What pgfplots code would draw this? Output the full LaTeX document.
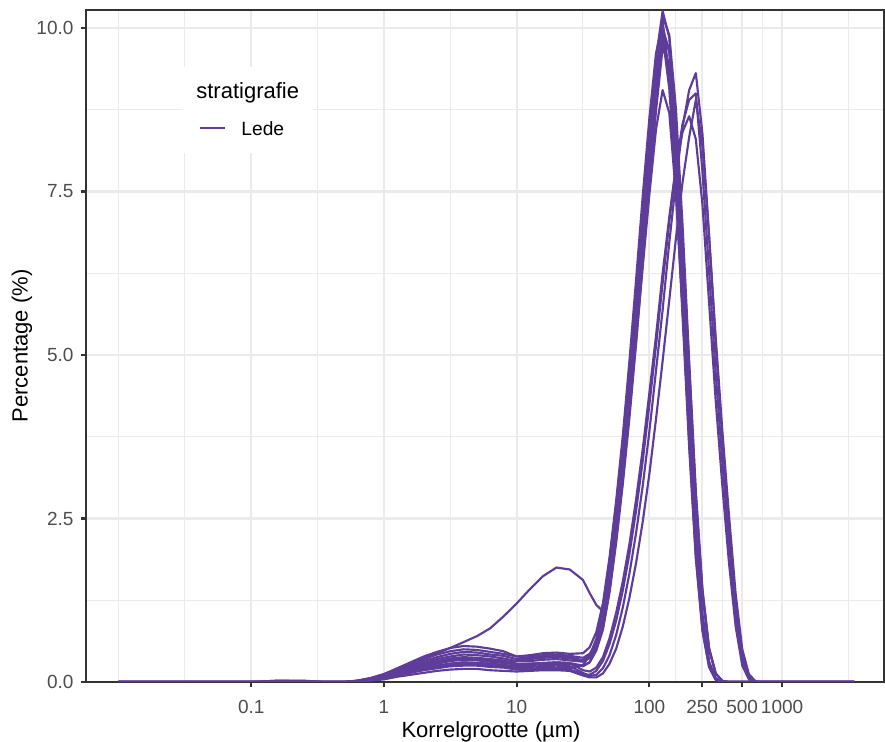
\documentclass[border=0pt]{standalone}
\usepackage{fontspec}
\setmainfont{Liberation Sans}
\usepackage{pgfplots}
\usepackage{pgfplotstable}
\pgfplotsset{compat=1.18}
\definecolor{lede}{HTML}{5E3C99}
\definecolor{grid92}{HTML}{EBEBEB}
\definecolor{grey20}{HTML}{333333}
\definecolor{grey30}{HTML}{4D4D4D}

\pgfplotstableread{
x A1 A2 A3 A4 A5 A6 A7 A8 O B1 B2 B3 B4
0.01 0 0 0 0 0 0 0 0 0 0 0 0 0
0.1 0 0 0 0 0 0 0 0 0 0 0 0 0
0.158 0 0 0.02 0 0 0 0 0 0 0 0 0 0.02
0.251 0 0 0.02 0 0 0 0 0 0 0 0 0 0.015
0.355 0 0 0 0 0 0 0 0 0 0 0 0 0
0.501 0 0 0 0 0 0 0 0 0 0 0 0 0
0.631 0.01 0.01 0.02 0.01 0.02 0.01 0.01 0.01 0.02 0.01 0.01 0.01 0.01
0.794 0.04 0.03 0.05 0.04 0.06 0.03 0.05 0.04 0.06 0.03 0.03 0.02 0.03
1 0.09 0.07 0.11 0.08 0.12 0.06 0.10 0.08 0.12 0.07 0.06 0.04 0.07
1.259 0.16 0.11 0.19 0.14 0.21 0.11 0.17 0.14 0.20 0.11 0.10 0.08 0.13
1.585 0.23 0.17 0.28 0.20 0.30 0.15 0.25 0.21 0.28 0.17 0.14 0.11 0.19
1.995 0.29 0.21 0.35 0.25 0.39 0.20 0.32 0.27 0.36 0.21 0.18 0.14 0.24
2.512 0.35 0.25 0.42 0.30 0.46 0.23 0.38 0.32 0.44 0.25 0.21 0.17 0.28
3.162 0.39 0.28 0.47 0.34 0.52 0.26 0.43 0.36 0.52 0.28 0.24 0.19 0.32
3.981 0.42 0.30 0.50 0.36 0.55 0.28 0.46 0.38 0.61 0.30 0.25 0.20 0.34
5.012 0.41 0.29 0.49 0.35 0.54 0.27 0.45 0.37 0.70 0.29 0.25 0.20 0.33
6.310 0.39 0.28 0.46 0.33 0.51 0.26 0.42 0.35 0.82 0.28 0.23 0.18 0.31
7.943 0.36 0.26 0.43 0.31 0.47 0.24 0.40 0.33 1.00 0.26 0.22 0.17 0.29
10 0.32 0.24 0.39 0.32 0.39 0.21 0.35 0.28 1.20 0.23 0.19 0.16 0.27
12.59 0.32 0.26 0.41 0.39 0.37 0.20 0.35 0.28 1.42 0.23 0.18 0.17 0.28
15.85 0.34 0.27 0.44 0.41 0.39 0.22 0.37 0.29 1.62 0.245 0.20 0.18 0.29
19.95 0.35 0.28 0.45 0.42 0.40 0.22 0.38 0.30 1.75 0.25 0.20 0.18 0.30
25.12 0.33 0.27 0.43 0.40 0.38 0.21 0.36 0.29 1.72 0.24 0.19 0.17 0.29
31.62 0.31 0.24 0.44 0.37 0.33 0.26 0.33 0.25 1.56 0.14 0.12 0.10 0.18
35.48 0.40 0.30 0.53 0.43 0.36 0.40 0.41 0.30 1.36 0.09 0.11 0.07 0.16
39.81 0.58 0.50 0.76 0.60 0.53 0.66 0.57 0.48 1.18 0.11 0.17 0.07 0.22
44.67 0.98 0.83 1.20 0.98 0.84 1.14 0.95 0.80 1.08 0.21 0.32 0.13 0.38
50.12 1.66 1.43 1.91 1.63 1.41 1.85 1.60 1.37 1.62 0.41 0.58 0.28 0.67
56.23 2.51 2.24 2.77 2.45 2.19 2.71 2.40 2.13 2.38 0.72 0.94 0.51 1.06
63.10 3.49 3.18 3.77 3.41 3.10 3.69 3.33 3.03 3.20 1.14 1.40 0.85 1.54
70.79 4.62 4.25 4.91 4.51 4.15 4.80 4.41 4.04 4.15 1.66 1.96 1.29 2.11
79.43 5.85 5.44 6.15 5.71 5.31 6.02 5.59 5.18 5.20 2.28 2.62 1.82 2.79
89.13 7.18 6.73 7.43 7.01 6.58 7.27 6.86 6.41 6.35 3.00 3.38 2.45 3.56
100 8.41 7.98 8.62 8.22 7.80 8.43 8.04 7.60 7.45 3.83 4.24 3.18 4.42
112.2 9.54 9.16 9.61 9.32 8.96 9.40 9.11 8.73 8.45 4.76 5.14 4.02 5.29
125.9 10.26 10.18 10.10 10.02 9.95 9.88 9.80 9.70 9.05 5.69 6.10 4.91 6.25
141.3 9.85 9.89 9.27 9.62 9.67 9.07 9.41 9.43 8.70 6.72 7.04 5.84 7.11
158.5 8.41 8.77 7.71 8.22 8.58 7.54 8.04 8.36 7.45 7.65 7.88 6.78 7.88
177.8 6.46 6.99 5.73 6.31 6.84 5.60 6.17 6.66 5.72 8.48 8.53 7.64 8.41
199.5 4.31 4.92 3.67 4.21 4.81 3.59 4.12 4.69 3.82 9.05 8.90 8.33 8.65
223.9 2.36 2.92 1.93 2.30 2.86 1.89 2.25 2.78 2.10 9.31 9.00 8.90 8.30
251.2 1.03 1.42 0.80 1.00 1.38 0.78 0.98 1.35 0.92 8.38 7.80 8.19 7.30
281.8 0.31 0.52 0.23 0.30 0.51 0.23 0.29 0.49 0.28 6.83 6.28 6.82 5.80
316.2 0.05 0.13 0.04 0.05 0.13 0.03 0.05 0.13 0.05 5.17 4.72 5.26 4.30
354.8 0 0.02 0 0 0.01 0 0 0.01 0 3.72 3.36 3.84 3.00
398.1 0 0 0 0 0 0 0 0 0 2.40 2.12 2.55 1.82
446.7 0 0 0 0 0 0 0 0 0 1.20 1.02 1.35 0.85
501.2 0 0 0 0 0 0 0 0 0 0.40 0.33 0.50 0.25
562.3 0 0 0 0 0 0 0 0 0 0.08 0.06 0.12 0.04
631.0 0 0 0 0 0 0 0 0 0 0 0 0.01 0
707.9 0 0 0 0 0 0 0 0 0 0 0 0 0
1000 0 0 0 0 0 0 0 0 0 0 0 0 0
3500 0 0 0 0 0 0 0 0 0 0 0 0 0
}\psd

\begin{document}
\begin{tikzpicture}
\begin{axis}[
  name=ax, scale only axis, width=399pt, height=336pt,
  xmode=log, xmin=0.00569, xmax=5860, ymin=0, ymax=10.275,
  xtick={0.1,1,10,100,250,500,1000},
  xticklabels={0.1,1,10,100,250,500,1000},
  minor xtick={0.01,0.0316,0.316,3.16,31.6,158.1,353.6,707.1,3162},
  ytick={0,2.5,5,7.5,10}, yticklabels={0.0,2.5,5.0,7.5,10.0},
  minor ytick={1.25,3.75,6.25,8.75},
  grid=both,
  major grid style={grid92, line width=1.07pt},
  minor grid style={grid92, line width=0.53pt},
  tick align=outside, major tick length=2.75pt, minor tick length=0pt,
  xtick pos=left, ytick pos=left,
  tick style={grey20, line width=1.07pt},
  axis line style={grey20, line width=1.07pt},
  tick label style={font=\fontsize{9.5}{11}\selectfont, text=grey30},
  xticklabel style={yshift=-2.8pt},
  label style={font=\fontsize{11}{13}\selectfont, text=black},
  xlabel={Korrelgrootte (µm)}, ylabel={Percentage (\%)},
  xlabel style={at={(axis description cs:0.5075,-0.0735)}, anchor=center},
  ylabel style={at={(axis description cs:-0.0802,0.5)}, anchor=center},
  legend style={at={(axis description cs:0.142,0.824)}, anchor=west,
    draw=none, fill=none, inner sep=0pt, outer sep=0pt, column sep=7.7pt,
    nodes={inner sep=0pt, font=\fontsize{9.6}{11}\selectfont}},
  legend image code/.code={\draw[#1] (0pt,0pt) -- (12.3pt,0pt);},
  every axis plot/.append style={line join=round},
]
\fill[white] (axis description cs:0.1216,0.7872) rectangle (axis description cs:0.2845,0.9152);
\node[anchor=west, inner sep=0pt, font=\fontsize{11}{13}\selectfont] at (axis description cs:0.1378,0.876) {stratigrafie};
\addplot[lede, line width=1.07pt, no markers] table[y=A1] {\psd};
\addlegendentry{\raisebox{-1.3pt}{Lede}}
\addplot[lede, line width=1.07pt, no markers, forget plot] table[y=A2] {\psd};
\addplot[lede, line width=1.07pt, no markers, forget plot] table[y=A3] {\psd};
\addplot[lede, line width=1.07pt, no markers, forget plot] table[y=A4] {\psd};
\addplot[lede, line width=1.07pt, no markers, forget plot] table[y=A5] {\psd};
\addplot[lede, line width=1.07pt, no markers, forget plot] table[y=A6] {\psd};
\addplot[lede, line width=1.07pt, no markers, forget plot] table[y=A7] {\psd};
\addplot[lede, line width=1.07pt, no markers, forget plot] table[y=A8] {\psd};
\addplot[lede, line width=1.07pt, no markers, forget plot] table[y=O] {\psd};
\addplot[lede, line width=1.07pt, no markers, forget plot] table[y=B1] {\psd};
\addplot[lede, line width=1.07pt, no markers, forget plot] table[y=B2] {\psd};
\addplot[lede, line width=1.07pt, no markers, forget plot] table[y=B3] {\psd};
\addplot[lede, line width=1.07pt, no markers, forget plot] table[y=B4] {\psd};
\end{axis}
\pgfresetboundingbox
\path ([xshift=-43pt,yshift=-30pt]ax.south west) rectangle ([xshift=0.5pt,yshift=5pt]ax.north east);
\end{tikzpicture}
\end{document}
